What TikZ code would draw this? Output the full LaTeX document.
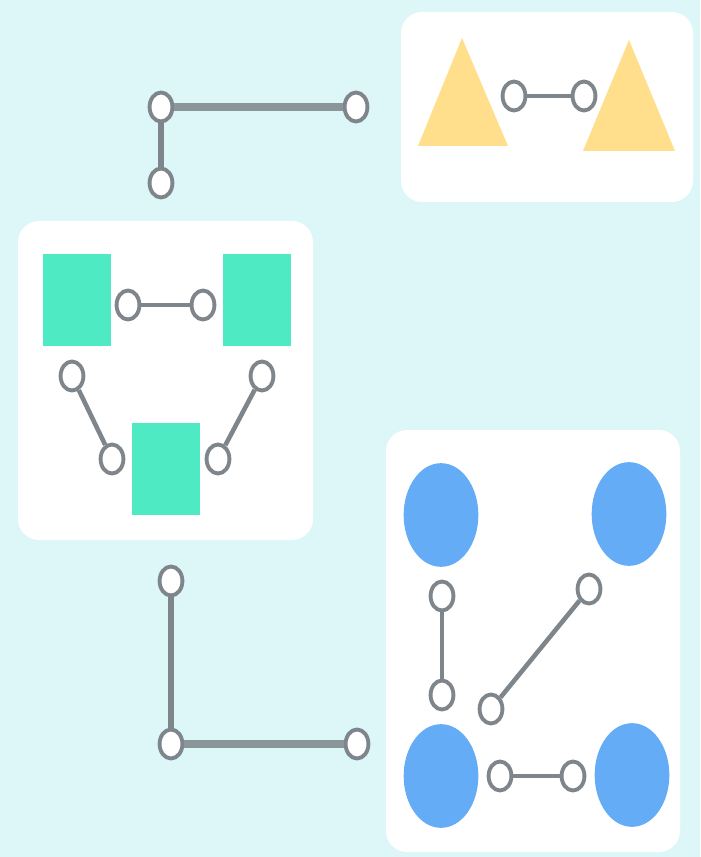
\documentclass[tikz,border=0pt]{standalone}
\usetikzlibrary{shapes.geometric}

\definecolor{bgcyan}{RGB}{221,247,249}
\definecolor{linkgray}{RGB}{126,133,139}
\definecolor{softgray}{RGB}{138,150,154}
\definecolor{tealbox}{RGB}{78,234,196}
\definecolor{skyblob}{RGB}{100,172,245}
\definecolor{sandtri}{RGB}{255,223,140}

\begin{document}
\begin{tikzpicture}[x=0.02cm, y=-0.02cm,
  joint/.style={ellipse, draw=linkgray, fill=white, line width=2.2pt,
    minimum width=13pt, minimum height=16.5pt, inner sep=0pt},
  link/.style={linkgray, line width=2.6pt},
  biglink/.style={softgray, line width=4pt},
  panel/.style={fill=white, rounded corners=12pt},
  sq/.style={rectangle, fill=tealbox, minimum width=38.5pt, minimum height=52pt, inner sep=0pt},
  blob/.style={ellipse, fill=skyblob, minimum width=42.5pt, minimum height=59pt, inner sep=0pt}]
  % Background
  \fill[bgcyan] (0,0) rectangle (700,857);
  \useasboundingbox (0,0) rectangle (700,857);

  % Panels
  \fill[panel] (401,12) rectangle (693,202);
  \fill[panel] (18,221) rectangle (313,540);
  \fill[panel] (386,430) rectangle (680,852);

  % Triangles (top right)
  \fill[sandtri] (462,38) -- (508,146) -- (418,146) -- cycle;
  \fill[sandtri] (629,40) -- (675,151) -- (583,151) -- cycle;
  \node[joint] (t1) at (514,96) {};
  \node[joint] (t2) at (584,96) {};
  \draw[link] (t1) -- (t2);

  % Squares (left)
  \node[sq] (s1) at (77,300) {};
  \node[sq] (s2) at (257,300) {};
  \node[sq] (s3) at (166,469) {};
  \node[joint] (a1) at (128,305) {};
  \node[joint] (a2) at (203,305) {};
  \node[joint] (b1) at (72,376) {};
  \node[joint] (b2) at (112,459) {};
  \node[joint] (c1) at (262,376) {};
  \node[joint] (c2) at (218,459) {};
  \draw[link] (a1) -- (a2);
  \draw[link] (b1) -- (b2);
  \draw[link] (c1) -- (c2);

  % Ellipses (bottom right)
  \node[blob] (e1) at (441,515) {};
  \node[blob] (e2) at (629,514) {};
  \node[blob] (e3) at (441,776) {};
  \node[blob] (e4) at (632,775) {};
  \node[joint] (d1) at (442,596) {};
  \node[joint] (d2) at (442,695) {};
  \node[joint] (f1) at (589,589) {};
  \node[joint] (f2) at (491,709) {};
  \node[joint] (g1) at (500,776) {};
  \node[joint] (g2) at (573,776) {};
  \draw[link] (d1) -- (d2);
  \draw[link] (f1) -- (f2);
  \draw[link] (g1) -- (g2);

  % Outer links
  \node[joint] (p1) at (161,107) {};
  \node[joint] (p2) at (356,107) {};
  \node[joint] (p3) at (161,183) {};
  \draw[biglink] (p1) -- (p2);
  \draw[link, line width=3pt] (p1) -- (p3);

  \node[joint] (q1) at (171,581) {};
  \node[joint] (q2) at (171,744) {};
  \node[joint] (q3) at (357,744) {};
  \draw[link, line width=3pt] (q1) -- (q2);
  \draw[biglink] (q2) -- (q3);
\end{tikzpicture}
\end{document}
